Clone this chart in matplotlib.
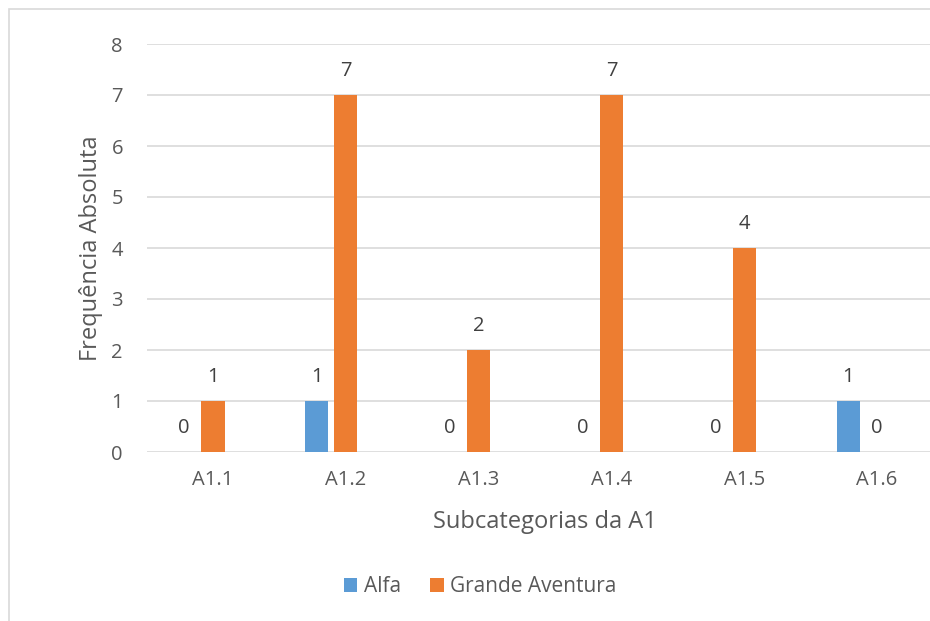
import matplotlib.pyplot as plt
from matplotlib.patches import Rectangle
import numpy as np

categorias = ["A1.1", "A1.2", "A1.3", "A1.4", "A1.5", "A1.6"]
alfa = [0, 1, 0, 0, 0, 1]
grande_aventura = [1, 7, 2, 7, 4, 0]

azul = "#5B9BD5"
laranja = "#ED7D31"
cinza_txt = "#595959"

plt.rcParams['font.family'] = ['Open Sans', 'DejaVu Sans']

fig = plt.figure(figsize=(9.3, 6.21), dpi=100)
# moldura do gráfico
fig.patches.append(Rectangle((9 / 930, -0.1), 1.2, (621 - 9) / 621 + 0.1,
                             transform=fig.transFigure, fill=False,
                             edgecolor="#D9D9D9", linewidth=1.2))

ax = fig.add_axes([146.5 / 930, (621 - 452) / 621, 797 / 930, 408 / 621])

x = np.arange(len(categorias))
w = 0.175
desl = 0.218
b1 = ax.bar(x - desl, alfa, w, color=azul, label="Alfa", zorder=3)
b2 = ax.bar(x, grande_aventura, w, color=laranja, label="Grande Aventura", zorder=3)

for barras, vals in ((b1, alfa), (b2, grande_aventura)):
    for b, v in zip(barras, vals):
        ax.annotate(str(v), (b.get_x() + b.get_width() / 2, v),
                    xytext=(0, 17.5), textcoords="offset points",
                    ha="center", va="center", fontsize=14.5, color="#404040")

ax.set_xlim(-0.5, 5.5)
ax.set_ylim(0, 8)
ax.set_yticks(range(9))
ax.set_xticks(x)
ax.set_xticklabels(categorias)
ax.grid(axis="y", color="#D9D9D9", linewidth=1.2, zorder=0)
ax.tick_params(length=0, labelsize=14.5, colors=cinza_txt)
ax.tick_params(axis="y", pad=17)
ax.tick_params(axis="x", pad=13)
for s in ax.spines.values():
    s.set_visible(False)

ax.set_xlabel("Subcategorias da A1", fontsize=17, color=cinza_txt, labelpad=14)
ax.set_ylabel("Frequência Absoluta", fontsize=17, color=cinza_txt, labelpad=6)

fig.legend(handles=[b1, b2], loc="center", bbox_to_anchor=(480 / 930, 1 - 587 / 621),
           ncol=2, frameon=False, fontsize=15, handlelength=0.65, handleheight=0.65,
           handletextpad=0.3, columnspacing=1.4, labelcolor=cinza_txt)

fig.savefig("out.png", dpi=100)
